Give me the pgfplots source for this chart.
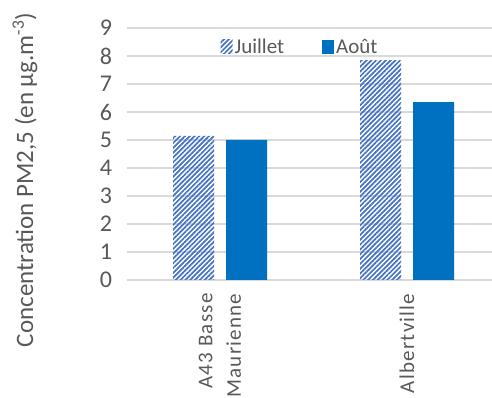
\documentclass[border=0pt]{standalone}
\usepackage{pgfplots}
\pgfplotsset{compat=1.18}
\usepackage{fontspec}
\setmainfont{Carlito}
\newfontfamily\spacedfont[LetterSpace=6]{Carlito}
\usetikzlibrary{patterns.meta}

\definecolor{txtgrey}{HTML}{595959}
\definecolor{gridgrey}{HTML}{D9D9D9}
\definecolor{hatchblue}{HTML}{4472C4}
\definecolor{solidblue}{HTML}{0070C0}

\begin{document}
\begin{tikzpicture}
\useasboundingbox (0,0) rectangle (492pt,398pt);
\begin{axis}[
  at={(126.5pt,118pt)}, anchor=south west,
  scale only axis, width=374pt, height=252pt,
  xmin=-0.5, xmax=1.5, ymin=0, ymax=9,
  ybar=12pt, bar width=41pt,
  xtick={0,1}, xticklabels={{A43 Basse\\Maurienne},{Albertville}},
  ytick={0,1,...,9},
  axis line style={draw=none},
  axis x line*=bottom,
  x axis line style={draw=gridgrey, line width=1.5pt},
  major tick length=0pt,
  ymajorgrids, grid style={gridgrey, line width=1.5pt},
  tick label style={text=txtgrey},
  /pgf/number format/assume math mode=true,
  yticklabel style={font=\fontsize{24}{28}\selectfont},
  yticklabel shift=11pt,
  xticklabel style={font=\spacedfont\fontsize{21}{28.5}\selectfont, rotate=90, anchor=east, align=right},
  xticklabel shift=10pt,
  legend columns=2,
  legend style={draw=none, fill=none, at={(0.464,0.925)}, anchor=center,
    font=\fontsize{21}{25}\selectfont, text=txtgrey,
    /tikz/every even column/.append style={column sep=36pt}},
  legend image code/.code={\fill[#1] (0pt,-7pt) rectangle (12pt,7pt);},
]
\addplot[draw=none, pattern={Lines[angle=45, distance=3.4pt, line width=1.7pt]}, pattern color=hatchblue]
  coordinates {(0,5.15) (1,7.85)};
\addlegendentry{Juillet}
\addplot[draw=none, fill=solidblue]
  coordinates {(0,5.0) (1,6.35)};
\addlegendentry{Août}
\end{axis}
\node[rotate=90, anchor=base, text=txtgrey, font=\fontsize{25}{30}\selectfont]
  at (33pt,218pt) {Concentration PM2,5 (en µg.m\textsuperscript{-3})};
\end{tikzpicture}
\end{document}
